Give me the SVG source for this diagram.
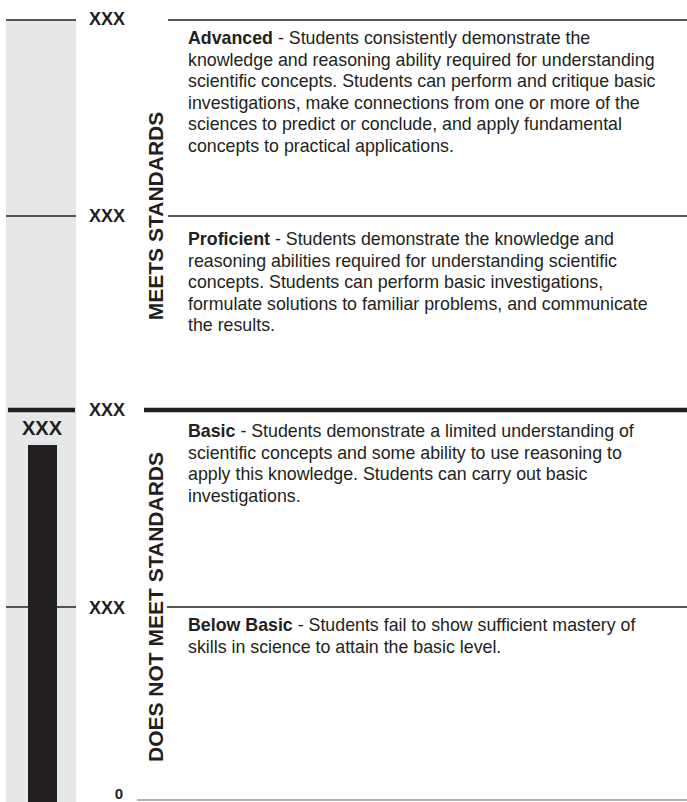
<svg xmlns="http://www.w3.org/2000/svg" width="687" height="802" viewBox="0 0 687 802">
<style>
text{font-family:"Liberation Sans",Arial,sans-serif;fill:#231f20}
.p{font-size:17.8px}
.b{font-weight:bold}
.lbl{font-size:18px;font-weight:bold}
.vt{font-size:21px;font-weight:bold}
.thin{stroke:#231f20;stroke-width:1.3;fill:none}
.thick{stroke:#231f20;stroke-width:4.5;fill:none}
</style>
<rect width="687" height="802" fill="#fff"/>
<g id="scale">
<rect x="6" y="20" width="70" height="782" fill="#e6e7e8"/>
<line class="thin" x1="6" y1="20" x2="76" y2="20"/>
<line class="thin" x1="6" y1="216" x2="76" y2="216"/>
<line class="thin" x1="6" y1="607" x2="76" y2="607"/>
<line class="thick" x1="8" y1="410" x2="75" y2="410"/>
<rect x="28" y="445" width="29" height="357" fill="#231f20"/>
<text x="42" y="435" text-anchor="middle" style="font-size:20px;font-weight:bold">XXX</text>
</g>
<g id="connectors">
<line class="thin" x1="168" y1="20" x2="687" y2="20"/>
<line class="thin" x1="168" y1="216" x2="687" y2="216"/>
<line class="thick" x1="144" y1="410" x2="687" y2="410"/>
<line class="thin" x1="167" y1="607" x2="687" y2="607"/>
<line x1="137" y1="800" x2="687" y2="800" stroke="#999" stroke-width="1.3"/>
</g>
<g id="cut-labels">
<text class="lbl" x="107" y="25" text-anchor="middle">XXX</text>
<text class="lbl" x="107" y="222" text-anchor="middle">XXX</text>
<text class="lbl" x="107" y="416" text-anchor="middle">XXX</text>
<text class="lbl" x="107" y="614" text-anchor="middle">XXX</text>
<text x="119" y="799" text-anchor="middle" style="font-size:15px;font-weight:bold">0</text>
</g>
<g id="meets">
<text class="vt" transform="translate(163,216) rotate(-90)" text-anchor="middle">MEETS STANDARDS</text>
</g>
<g id="not-meets">
<text class="vt" transform="translate(163,607) rotate(-90)" text-anchor="middle">DOES NOT MEET STANDARDS</text>
</g>
<g id="advanced">
<text class="p" x="188" y="44"><tspan class="b">Advanced</tspan> - Students consistently demonstrate the</text>
<text class="p" x="188" y="65.6">knowledge and reasoning ability required for understanding</text>
<text class="p" x="188" y="87.2">scientific concepts. Students can perform and critique basic</text>
<text class="p" x="188" y="108.8">investigations, make connections from one or more of the</text>
<text class="p" x="188" y="130.4">sciences to predict or conclude, and apply fundamental</text>
<text class="p" x="188" y="152">concepts to practical applications.</text>
</g>
<g id="proficient">
<text class="p" x="188" y="245"><tspan class="b">Proficient</tspan> - Students demonstrate the knowledge and</text>
<text class="p" x="188" y="266.6">reasoning abilities required for understanding scientific</text>
<text class="p" x="188" y="288.2">concepts. Students can perform basic investigations,</text>
<text class="p" x="188" y="309.8">formulate solutions to familiar problems, and communicate</text>
<text class="p" x="188" y="331.4">the results.</text>
</g>
<g id="basic">
<text class="p" x="188" y="437"><tspan class="b">Basic</tspan> - Students demonstrate a limited understanding of</text>
<text class="p" x="188" y="458.6">scientific concepts and some ability to use reasoning to</text>
<text class="p" x="188" y="480.2">apply this knowledge. Students can carry out basic</text>
<text class="p" x="188" y="501.8">investigations.</text>
</g>
<g id="below-basic">
<text class="p" x="188" y="631"><tspan class="b">Below Basic</tspan> - Students fail to show sufficient mastery of</text>
<text class="p" x="188" y="652.6">skills in science to attain the basic level.</text>
</g>
</svg>
